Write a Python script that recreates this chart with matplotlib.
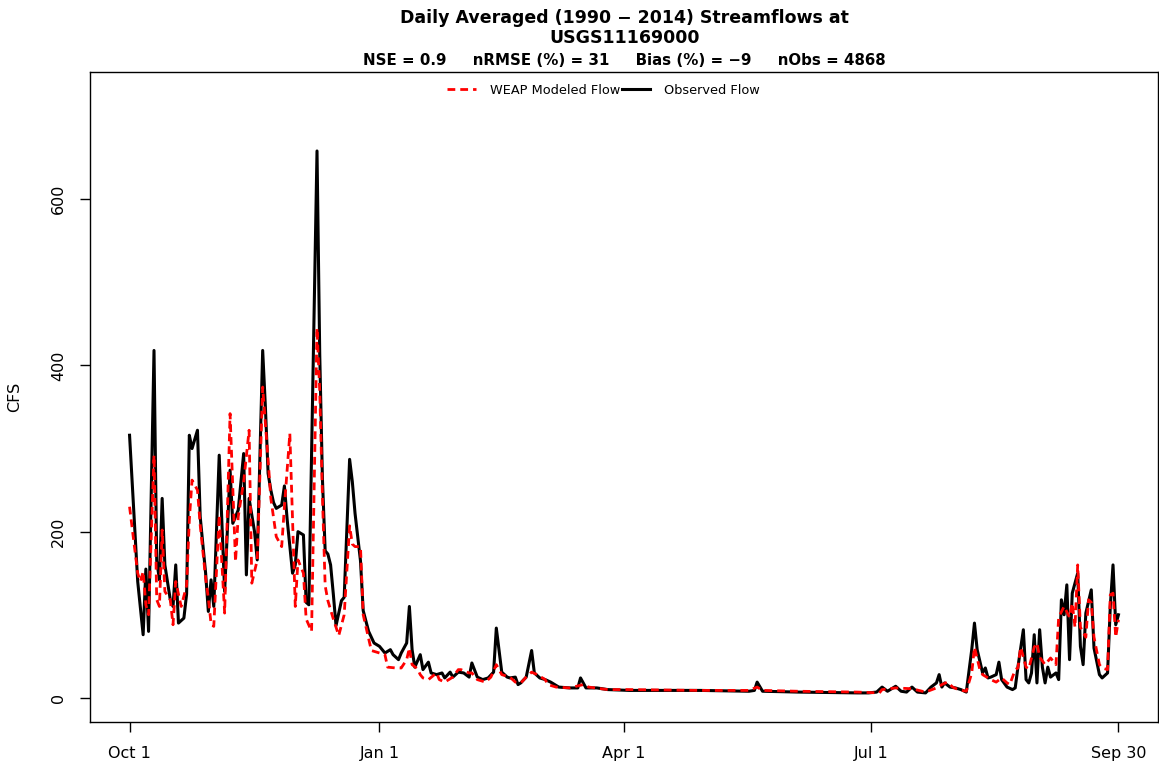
"""Daily averaged streamflow, WEAP modeled vs observed, USGS11169000."""

import matplotlib
matplotlib.use("Agg")
import matplotlib.pyplot as plt

plt.rcParams["font.family"] = ["DejaVu Sans"]

# day of water year (0 = Oct 1) and flow in CFS
obs_days = [0, 3, 5, 6, 7, 9, 10, 11, 12, 13, 15, 16, 17, 18, 20, 21, 22, 23, 25,
            26, 28, 29, 30, 31, 33, 35, 37, 38, 40, 42, 43, 44, 46, 47, 49, 50, 51,
            52, 53, 54, 56, 57, 58, 60, 61, 62, 64, 65, 66, 69, 70, 71, 72, 73, 74,
            75, 76, 78, 79, 81, 82, 83, 85, 86, 88, 90, 92, 94, 96, 97, 99, 100,
            102, 103, 104, 105, 107, 108, 110, 111, 113, 115, 116, 118, 119, 121,
            123, 125, 126, 128, 130, 132, 134, 135, 137, 139, 140, 142, 143, 144,
            146, 148, 149, 151, 153, 155, 158, 162, 165, 166, 168, 172, 176, 184,
            210, 228, 230, 231, 233, 246, 268, 272, 275, 277, 279, 282, 284, 286,
            288, 290, 293, 295, 297, 298, 299, 300, 302, 304, 306, 308, 310, 311,
            312, 314, 315, 316, 317, 319, 320, 321, 323, 325, 326, 327, 329, 330,
            331, 332, 333, 334, 335, 336, 337, 338, 339, 341, 342, 343, 344, 345,
            346, 347, 349, 350, 351, 352, 354, 355, 357, 358, 360, 361, 362, 363,
            364]
obs_cfs = [316, 140, 76, 155, 80, 418, 165, 142, 240, 160, 118, 110, 160, 90, 96,
           125, 316, 300, 322, 218, 150, 104, 142, 110, 292, 128, 274, 210, 226,
           294, 148, 240, 200, 166, 418, 350, 270, 250, 235, 228, 232, 255, 215,
           150, 160, 200, 196, 115, 112, 658, 414, 263, 177, 173, 160, 125, 87,
           117, 121, 287, 260, 222, 165, 105, 80, 66, 62, 54, 58, 52, 46, 54, 66,
           110, 58, 37, 52, 34, 43, 30, 28, 30, 24, 31, 25, 31, 30, 25, 42, 25,
           22, 24, 31, 84, 31, 25, 24, 25, 16, 18, 25, 57, 30, 24, 22, 19, 13, 12,
           12, 24, 12, 12, 10, 9, 9, 8, 9, 19, 8, 7, 6, 6, 7, 13, 8, 14, 8, 7, 13,
           7, 6, 13, 18, 28, 13, 18, 13, 12, 10, 7, 58, 90, 58, 30, 36, 24, 25, 28,
           43, 22, 13, 10, 12, 37, 82, 22, 18, 30, 76, 18, 82, 37, 18, 37, 25, 30,
           22, 118, 100, 136, 46, 126, 150, 62, 40, 102, 130, 60, 28, 24, 30, 110,
           160, 88, 100]

mod_days = [0, 3, 4, 5, 6, 7, 9, 10, 11, 12, 13, 15, 16, 17, 19, 21, 22, 23, 25,
            26, 28, 29, 30, 31, 33, 35, 37, 39, 40, 42, 44, 45, 47, 49, 51, 52, 54,
            56, 57, 59, 61, 62, 64, 65, 67, 69, 70, 71, 72, 73, 75, 77, 79, 81, 82,
            83, 85, 86, 89, 91, 94, 95, 98, 100, 102, 103, 104, 106, 107, 108, 110,
            113, 114, 116, 119, 121, 122, 125, 126, 128, 131, 133, 135, 137, 140,
            142, 144, 146, 148, 150, 153, 154, 157, 162, 167, 169, 176, 184, 210,
            228, 231, 233, 246, 268, 276, 277, 282, 288, 293, 297, 299, 301, 303,
            305, 308, 310, 311, 313, 314, 317, 319, 321, 323, 324, 326, 327, 328,
            330, 331, 333, 334, 335, 337, 339, 341, 342, 344, 346, 347, 348, 349,
            350, 352, 353, 354, 355, 357, 358, 360, 361, 362, 363, 364]
mod_cfs = [230, 150, 140, 152, 112, 100, 292, 118, 110, 202, 128, 118, 88, 140,
           110, 135, 214, 262, 250, 208, 144, 120, 89, 86, 220, 102, 342, 164, 218,
           260, 322, 138, 166, 374, 286, 240, 194, 182, 230, 318, 110, 166, 150,
           95, 80, 445, 370, 242, 135, 117, 95, 75, 100, 207, 185, 182, 182, 100,
           57, 55, 52, 37, 36, 36, 46, 60, 40, 35, 28, 24, 22, 30, 22, 19, 25, 34,
           34, 30, 30, 22, 19, 25, 40, 28, 25, 19, 18, 25, 31, 28, 22, 16, 13, 12,
           16, 13, 10, 10, 9, 9, 13, 9, 8, 7, 6, 10, 12, 11, 7, 12, 16, 19, 13, 10,
           8, 30, 61, 34, 28, 22, 19, 24, 18, 16, 34, 36, 61, 37, 35, 61, 66, 49,
           40, 48, 40, 97, 110, 97, 114, 85, 160, 85, 73, 118, 115, 73, 40, 36, 34,
           124, 126, 73, 94]

tick_days = [0, 92, 182, 273, 364]
tick_labels = ["Oct 1", "Jan 1", "Apr 1", "Jul 1", "Sep 30"]
y_ticks = [0, 200, 400, 600]


def main():
    fig = plt.figure(figsize=(11.59, 7.71), dpi=100)
    ax = fig.add_axes([90 / 1159, 1 - 722 / 771, 1068 / 1159, 650 / 771])

    ax.plot(mod_days, mod_cfs, color="red", linewidth=2.0,
            linestyle=(0, (2.8, 1.8)), label="WEAP Modeled Flow", zorder=3)
    ax.plot(obs_days, obs_cfs, color="black", linewidth=2.2,
            label="Observed Flow", zorder=2)

    ax.set_xlim(-14.56, 378.56)
    ax.set_ylim(-29, 753)
    ax.set_xticks(tick_days)
    ax.set_xticklabels(tick_labels, fontsize=11.5)
    ax.set_yticks(y_ticks)
    ax.set_yticklabels([str(v) for v in y_ticks], fontsize=11.5,
                       rotation=90, va="center")
    ax.tick_params(direction="out", length=7.2, width=1, pad=10)
    ax.set_ylabel("CFS", fontsize=11.5)
    ax.yaxis.set_label_coords(-0.064, 0.5)
    for sp in ax.spines.values():
        sp.set_linewidth(1.0)

    ax.legend(loc="upper center", bbox_to_anchor=(0.481, 1.0), ncol=2,
              frameon=False, fontsize=9.3, handlelength=2.2,
              columnspacing=0.1, handletextpad=1.1, borderaxespad=0.5)

    fig.text(0.539, 0.9767, "Daily Averaged (1990 \u2212 2014) Streamflows at",
             ha="center", va="center", fontsize=12.5, fontweight="bold")
    fig.text(0.539, 0.9507, "USGS11169000",
             ha="center", va="center", fontsize=12.5, fontweight="bold")
    fig.text(0.539, 0.922,
             "NSE = 0.9     nRMSE (%) = 31     Bias (%) = \u22129     nObs = 4868",
             ha="center", va="center", fontsize=10.8, fontweight="bold")

    fig.savefig("out.png", dpi=100, facecolor="white")
    plt.close(fig)


if __name__ == "__main__":
    main()
